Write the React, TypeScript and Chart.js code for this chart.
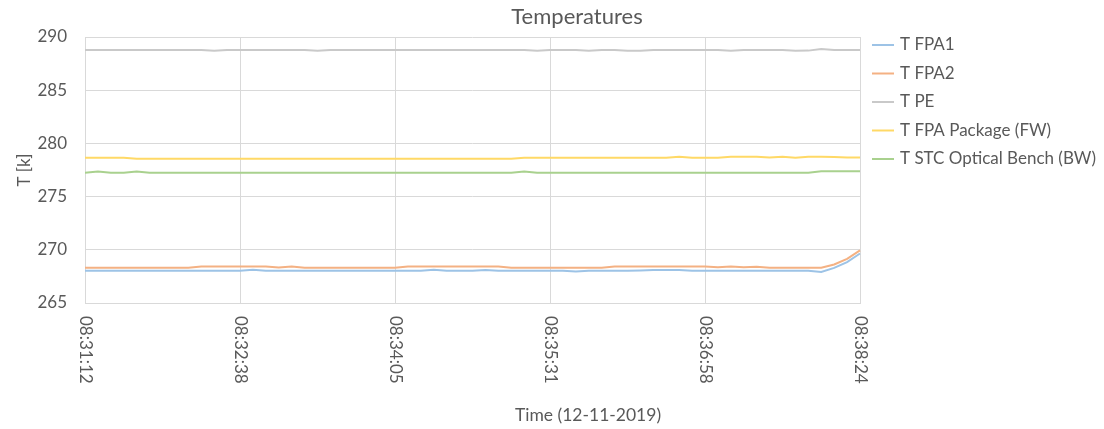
import React, { useEffect, useRef } from "react";
import { Chart, registerables } from "chart.js";

Chart.register(...registerables);

// ---- data ----
const seriesNames = [
  "T FPA1",
  "T FPA2",
  "T PE",
  "T FPA Package (FW)",
  "T STC Optical Bench (BW)",
];
const seriesColors = ["#9DC3E6", "#F4B183", "#C9C9C9", "#FFD966", "#A9D18E"];

const tFpa1 = [
  268.04, 268.04, 268.04, 268.04, 268.04, 268.04, 268.04, 268.04, 268.04, 268.04,
  268.04, 268.04, 268.04, 268.12, 268.04, 268.04, 268.04, 268.04, 268.04, 268.04,
  268.04, 268.04, 268.04, 268.04, 268.04, 268.04, 268.04, 268.12, 268.04, 268.04,
  268.04, 268.11, 268.04, 268.04, 268.04, 268.04, 268.04, 268.04, 267.96, 268.04,
  268.04, 268.04, 268.04, 268.06, 268.1, 268.1, 268.1, 268.04, 268.04, 268.04,
  268.04, 268.04, 268.04, 268.04, 268.04, 268.04, 268.04, 267.92, 268.3, 268.85,
  269.65,
];
const tFpa2 = [
  268.32, 268.32, 268.32, 268.32, 268.32, 268.32, 268.32, 268.32, 268.32, 268.42,
  268.42, 268.42, 268.42, 268.42, 268.42, 268.34, 268.42, 268.32, 268.32, 268.32,
  268.32, 268.32, 268.32, 268.32, 268.32, 268.42, 268.42, 268.42, 268.42, 268.42,
  268.42, 268.42, 268.42, 268.32, 268.32, 268.32, 268.32, 268.32, 268.32, 268.32,
  268.32, 268.42, 268.42, 268.42, 268.42, 268.42, 268.42, 268.42, 268.42, 268.35,
  268.42, 268.36, 268.4, 268.32, 268.32, 268.32, 268.32, 268.32, 268.62, 269.15,
  269.95,
];
const tPe = [
  288.78, 288.78, 288.78, 288.78, 288.78, 288.78, 288.78, 288.78, 288.78, 288.78,
  288.7, 288.78, 288.78, 288.78, 288.78, 288.78, 288.78, 288.78, 288.7, 288.78,
  288.78, 288.78, 288.78, 288.78, 288.78, 288.78, 288.78, 288.78, 288.78, 288.78,
  288.78, 288.78, 288.78, 288.78, 288.78, 288.7, 288.78, 288.78, 288.78, 288.7,
  288.78, 288.78, 288.7, 288.7, 288.78, 288.78, 288.78, 288.78, 288.78, 288.78,
  288.7, 288.78, 288.78, 288.78, 288.78, 288.7, 288.72, 288.88, 288.78, 288.78,
  288.78,
];
const tFpaPackage = [
  278.65, 278.65, 278.65, 278.65, 278.55, 278.55, 278.55, 278.55, 278.55, 278.55,
  278.55, 278.55, 278.55, 278.55, 278.55, 278.55, 278.55, 278.55, 278.55, 278.55,
  278.55, 278.55, 278.55, 278.55, 278.55, 278.55, 278.55, 278.55, 278.55, 278.55,
  278.55, 278.55, 278.55, 278.55, 278.65, 278.65, 278.65, 278.65, 278.65, 278.65,
  278.65, 278.65, 278.65, 278.65, 278.65, 278.65, 278.75, 278.65, 278.65, 278.65,
  278.75, 278.75, 278.75, 278.67, 278.75, 278.66, 278.75, 278.75, 278.72, 278.68,
  278.68,
];
const tStcBench = [
  277.25, 277.35, 277.25, 277.25, 277.35, 277.25, 277.25, 277.25, 277.25, 277.25,
  277.25, 277.25, 277.25, 277.25, 277.25, 277.25, 277.25, 277.25, 277.25, 277.25,
  277.25, 277.25, 277.25, 277.25, 277.25, 277.25, 277.25, 277.25, 277.25, 277.25,
  277.25, 277.25, 277.25, 277.25, 277.35, 277.25, 277.25, 277.25, 277.25, 277.25,
  277.25, 277.25, 277.25, 277.25, 277.25, 277.25, 277.25, 277.25, 277.25, 277.25,
  277.25, 277.25, 277.25, 277.25, 277.25, 277.25, 277.25, 277.38, 277.38, 277.38,
  277.38,
];

const tickLabels = ["08:31:12", "08:32:38", "08:34:05", "08:35:31", "08:36:58", "08:38:24"];
const tickIndices = [0, 12, 24, 36, 48, 60];
const yTicks = [265, 270, 275, 280, 285, 290];

const chartTitle = "Temperatures";
const xTitle = "Time (12-11-2019)";
const yTitle = "T [k]";

const FONT = "Lato, 'Open Sans', sans-serif";
const TEXT = "#595959";
const GRID = "#D9D9D9";

const overlayPlugin = {
  id: "overlay",
  afterDraw(chart: any) {
    const { ctx, chartArea, scales } = chart;
    ctx.save();
    ctx.fillStyle = TEXT;
    // chart title
    ctx.font = `22px ${FONT}`;
    ctx.textAlign = "center";
    ctx.textBaseline = "middle";
    ctx.fillText(chartTitle, chartArea.left + 492, 17);
    // x axis title
    ctx.font = `17.5px ${FONT}`;
    ctx.fillText(xTitle, chartArea.left + 503, 415);
    // x tick labels (rotated, reading top to bottom)
    const xs = scales.x;
    tickIndices.forEach((idx, k) => {
      const px = xs.getPixelForValue(idx);
      ctx.save();
      ctx.translate(px, chartArea.bottom + 13);
      ctx.rotate(Math.PI / 2);
      ctx.textAlign = "left";
      ctx.textBaseline = "middle";
      ctx.font = `17px ${FONT}`;
      ctx.fillText(tickLabels[k], 0, 0);
      ctx.restore();
    });
    // legend
    chart.data.datasets.forEach((ds: any, i: number) => {
      const y = chartArea.top + 8 + 28.5 * i;
      ctx.strokeStyle = ds.borderColor;
      ctx.lineWidth = 2;
      ctx.beginPath();
      ctx.moveTo(chartArea.right + 12, y);
      ctx.lineTo(chartArea.right + 34, y);
      ctx.stroke();
      ctx.fillStyle = TEXT;
      ctx.font = `17px ${FONT}`;
      ctx.textAlign = "left";
      ctx.textBaseline = "middle";
      ctx.fillText(ds.label, chartArea.right + 40, y);
    });
    ctx.restore();
  },
};

export default function App() {
  const canvasRef = useRef<HTMLCanvasElement | null>(null);

  useEffect(() => {
    document.body.style.margin = "0";
    const canvas = canvasRef.current;
    if (!canvas) return;
    Chart.defaults.font.family = FONT;
    const values = [tFpa1, tFpa2, tPe, tFpaPackage, tStcBench];
    const labels = tFpa1.map((_, i) => i);
    const chart = new Chart(canvas, {
      type: "line",
      data: {
        labels,
        datasets: seriesNames.map((name, i) => ({
          label: name,
          data: values[i],
          borderColor: seriesColors[i],
          backgroundColor: seriesColors[i],
          borderWidth: 2,
          pointRadius: 0,
          tension: 0,
          fill: false,
        })),
      },
      options: {
        animation: false,
        responsive: false,
        devicePixelRatio: 1,
        layout: { padding: { top: 37, right: 244, bottom: 126, left: 0 } },
        plugins: {
          legend: { display: false },
          title: { display: false },
          tooltip: { enabled: false },
        },
        scales: {
          x: {
            type: "category",
            offset: false,
            afterBuildTicks: (scale: any) => {
              scale.ticks = tickIndices.map((v) => ({ value: v }));
            },
            ticks: { display: false },
            grid: { color: GRID, lineWidth: 1, drawTicks: false },
            border: { color: GRID },
          },
          y: {
            min: 265,
            max: 290,
            afterBuildTicks: (scale: any) => {
              scale.ticks = yTicks.map((v) => ({ value: v }));
            },
            afterFit: (scale: any) => {
              scale.width = 85;
            },
            ticks: {
              color: TEXT,
              font: { size: 17, family: FONT },
              padding: 18,
            },
            grid: { color: GRID, lineWidth: 1, drawTicks: false },
            border: { display: false },
            title: {
              display: true,
              text: yTitle,
              color: TEXT,
              font: { size: 17, family: FONT },
              padding: { top: 14, bottom: 3 },
            },
          },
        },
      },
      plugins: [overlayPlugin],
    });
    return () => chart.destroy();
  }, []);

  return (
    <div style={{ width: 1104, height: 429 }}>
      <canvas ref={canvasRef} width={1104} height={429} style={{ display: "block" }} />
    </div>
  );
}
